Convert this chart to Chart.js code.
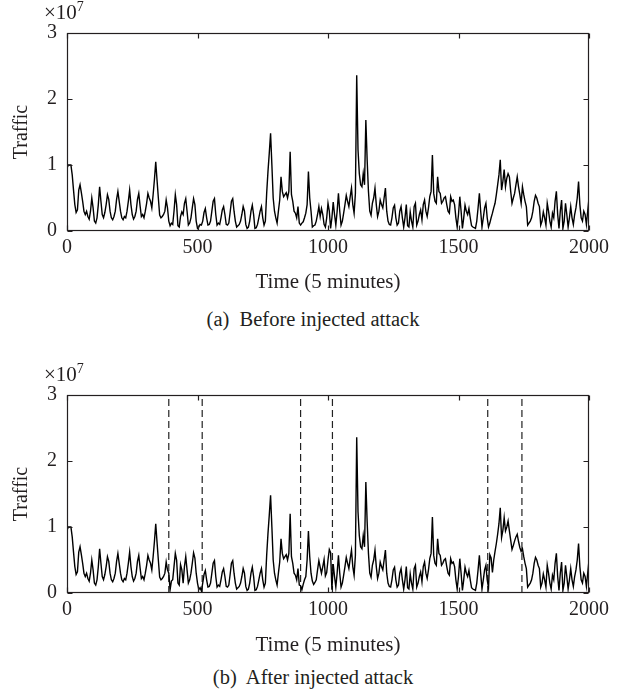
<!DOCTYPE html>
<html><head><meta charset="utf-8">
<script src="https://cdn.jsdelivr.net/npm/chart.js@4.4.1/dist/chart.umd.min.js"></script>
<style>
body{margin:0;background:#fff;width:626px;height:694px;position:relative;overflow:hidden;font-family:"Liberation Serif",serif;color:#231f20}
.cv{position:absolute;left:0;width:626px;height:300px}
#wa{top:0}
#wb{top:360px}
.exp{position:absolute;left:44px;font-size:21px;line-height:22px;white-space:nowrap}
.exp sup{font-size:14px;vertical-align:0;position:relative;top:-8px}
.cap{position:absolute;left:0;width:626px;text-align:center;font-size:20.5px;line-height:24px;white-space:pre}
</style></head><body>
<div class="cv" id="wa"><canvas id="ca" width="626" height="300"></canvas></div>
<div class="cv" id="wb"><canvas id="cb" width="626" height="300"></canvas></div>
<div class="exp" style="top:1px">×10<sup>7</sup></div>
<div class="exp" style="top:363px">×10<sup>7</sup></div>
<div class="cap" style="top:307px">(a)  Before injected attack</div>
<div class="cap" style="top:665px">(b)  After injected attack</div>
<script>
// Traffic (×10^7), sampled every 5 time units (5-minute intervals), t = 0..2000
const SAMPLE_STEP = 5;
const trafficBefore = [
 0.95,1.0,1.0,1.0,0.85,0.62,0.4,0.28,0.32,0.62,0.7,0.58,0.45,0.3,0.25,0.3,0.22,0.18,0.3,0.5,
 0.35,0.15,0.12,0.2,0.4,0.67,0.45,0.25,0.2,0.28,0.4,0.55,0.48,0.3,0.2,0.17,0.22,0.3,0.48,0.6,
 0.45,0.3,0.2,0.17,0.22,0.2,0.3,0.45,0.62,0.4,0.25,0.18,0.22,0.3,0.48,0.57,0.38,0.22,0.25,0.2,
 0.3,0.42,0.57,0.5,0.45,0.35,0.55,0.78,1.05,0.77,0.5,0.24,0.2,0.22,0.25,0.3,0.47,0.35,0.15,0.08,
 0.12,0.1,0.3,0.55,0.4,0.08,0.06,0.22,0.29,0.25,0.42,0.49,0.3,0.09,0.12,0.2,0.35,0.49,0.4,0.15,
 0.04,0.06,0.1,0.09,0.15,0.28,0.34,0.2,0.09,0.1,0.15,0.3,0.45,0.49,0.25,0.09,0.12,0.1,0.2,0.32,
 0.37,0.25,0.1,0.09,0.12,0.28,0.45,0.49,0.3,0.15,0.06,0.08,0.1,0.15,0.25,0.37,0.3,0.1,0.04,0.06,
 0.15,0.3,0.39,0.25,0.04,0.05,0.1,0.2,0.3,0.37,0.2,0.09,0.15,0.57,0.9,1.18,1.48,1.0,0.5,0.3,
 0.2,0.12,0.3,0.47,0.82,0.6,0.52,0.55,0.58,0.5,0.6,1.2,0.55,0.45,0.3,0.27,0.2,0.37,0.12,0.09,
 0.12,0.14,0.2,0.27,0.4,0.9,0.5,0.3,0.06,0.08,0.09,0.15,0.25,0.37,0.22,0.34,0.25,0.1,0.06,0.2,
 0.42,0.3,0.04,0.2,0.44,0.25,0.09,0.3,0.57,0.3,0.09,0.15,0.27,0.4,0.54,0.45,0.37,0.52,0.65,0.4,
 0.27,0.57,2.36,1.23,0.87,0.7,0.67,0.87,0.7,1.68,1.08,0.6,0.3,0.24,0.42,0.5,0.65,0.4,0.22,0.3,
 0.47,0.4,0.35,0.5,0.65,0.3,0.15,0.1,0.09,0.2,0.35,0.39,0.2,0.09,0.12,0.3,0.37,0.2,0.06,0.2,
 0.4,0.08,0.06,0.29,0.15,0.06,0.37,0.42,0.09,0.15,0.25,0.32,0.17,0.4,0.47,0.3,0.22,0.35,0.52,0.6,
 1.15,0.57,0.45,0.42,0.82,0.6,0.57,0.42,0.45,0.5,0.52,0.4,0.3,0.27,0.52,0.45,0.47,0.4,0.2,0.06,
 0.25,0.52,0.3,0.04,0.2,0.39,0.3,0.25,0.34,0.2,0.08,0.06,0.05,0.04,0.15,0.35,0.57,0.3,0.06,0.2,
 0.35,0.42,0.2,0.06,0.12,0.2,0.27,0.35,0.42,0.55,0.7,0.85,1.08,0.62,0.75,0.93,0.67,0.8,0.87,0.82,
 0.6,0.42,0.5,0.57,0.7,0.82,0.67,0.55,0.42,0.67,0.55,0.45,0.37,0.09,0.12,0.15,0.2,0.3,0.45,0.54,
 0.5,0.42,0.37,0.09,0.15,0.29,0.2,0.09,0.42,0.3,0.15,0.06,0.27,0.2,0.45,0.6,0.25,0.04,0.3,0.47,
 0.04,0.15,0.42,0.25,0.06,0.2,0.37,0.2,0.1,0.25,0.35,0.5,0.75,0.4,0.2,0.15,0.3,0.25,0.1,0.3,
 0.5
];
// Traffic inside the three injected-attack windows (panel b)
const attack1Start = 390;
const attack1Values = [0.3,0.05,0.18,0.2,0.4,0.6,0.5,0.15,0.12,0.43,0.35,0.15,0.4,0.55,0.35,0.15,0.2,0.3,0.45,0.61,0.53,0.3,0.15,0.05,0.08,0.03];
const attack2Start = 895;
const attack2Values = [0.11,0.05,0.13,0.2,0.25,0.5,0.94,0.55,0.3,0.18,0.13,0.16,0.2,0.35,0.49,0.39,0.3,0.4,0.51,0.26,0.31,0.5,0.66,0.61,0.05];
const attack3Start = 1610;
const attack3Values = [0.2,0.08,0.58,0.53,0.31,0.5,0.63,0.75,0.89,1.05,1.29,0.84,0.95,1.14,0.94,1.0,1.09,0.94,0.8,0.66,0.72,0.79,0.85,0.89,0.78,0.69,0.63];
// Dashed boundaries of the attack windows (time)
const attackBounds = [390, 518, 895, 1017, 1612, 1743];
const xTicks = [0, 500, 1000, 1500, 2000];
const yTicks = [0, 1, 2, 3];

function withWindows(base, wins) {
  const out = base.slice();
  wins.forEach(w => w.values.forEach((v, k) => { out[w.start / SAMPLE_STEP + k] = v; }));
  return out;
}
const trafficAfter = withWindows(trafficBefore, [
  {start: attack1Start, values: attack1Values},
  {start: attack2Start, values: attack2Values},
  {start: attack3Start, values: attack3Values}
]);
const toPoints = arr => arr.map((v, i) => ({x: i * SAMPLE_STEP, y: v}));

const INK = '#231f20';
const FONT = '"Liberation Serif", serif';

const framePlugin = {
  id: 'frame',
  afterDatasetsDraw(chart) {
    const {ctx, chartArea: a, scales: {x, y}} = chart;
    ctx.save();
    ctx.strokeStyle = INK; ctx.lineWidth = 1.2;
    const L = Math.round(a.left) + 0.5, R = Math.round(a.right) - 0.5;
    const T = Math.round(a.top) + 0.5, B = Math.round(a.bottom) - 0.5;
    ctx.strokeRect(L, T, R - L, B - T);
    ctx.beginPath();
    const tl = 5;
    xTicks.forEach(v => {
      const px = Math.round(x.getPixelForValue(v)) + 0.5;
      ctx.moveTo(px, B); ctx.lineTo(px, B - tl);
      ctx.moveTo(px, T); ctx.lineTo(px, T + tl);
    });
    yTicks.forEach(v => {
      const py = Math.round(y.getPixelForValue(v)) + 0.5;
      ctx.moveTo(L, py); ctx.lineTo(L + tl, py);
      ctx.moveTo(R, py); ctx.lineTo(R - tl, py);
    });
    ctx.stroke();
    ctx.restore();
  }
};

function makeChart(id, series, bounds, topPad, xAxisH, titlePadBottom) {
  const datasets = [{
    data: toPoints(series), borderColor: '#000', borderWidth: 1.4,
    pointRadius: 0, tension: 0, fill: false, borderJoinStyle: 'miter'
  }];
  bounds.forEach(b => datasets.push({
    data: [{x: b, y: 0}, {x: b, y: 3}], borderColor: '#222', borderWidth: 1.2,
    borderDash: [7, 4], pointRadius: 0, fill: false
  }));
  return new Chart(document.getElementById(id), {
    type: 'line',
    data: {datasets},
    plugins: [framePlugin],
    options: {
      responsive: false, animation: false, devicePixelRatio: 1,
      layout: {padding: {left: 0, right: 37, top: topPad, bottom: 0}},
      plugins: {legend: {display: false}, tooltip: {enabled: false}},
      scales: {
        x: {
          type: 'linear', min: 0, max: 2000,
          grid: {display: false, drawTicks: false}, border: {display: false},
          afterBuildTicks: s => { s.ticks = xTicks.map(v => ({value: v})); },
          afterFit: s => { s.height = xAxisH; },
          ticks: {padding: 5, color: INK, font: {family: FONT, size: 20}, maxRotation: 0,
                  callback: v => String(v)},
          title: {display: true, text: 'Time (5 minutes)', color: INK,
                  font: {family: FONT, size: 21}, padding: {top: 0, bottom: titlePadBottom}}
        },
        y: {
          type: 'linear', min: 0, max: 3,
          grid: {display: false, drawTicks: false}, border: {display: false},
          afterBuildTicks: s => { s.ticks = yTicks.map(v => ({value: v})); },
          afterFit: s => { s.width = 67; },
          ticks: {padding: 10, color: INK, font: {family: FONT, size: 20}, callback: v => String(v)},
          title: {display: true, text: 'Traffic', color: INK,
                  font: {family: FONT, size: 20}, padding: {top: 10, bottom: 0}}
        }
      }
    }
  });
}
makeChart('ca', trafficBefore, [], 33, 69, 5);
makeChart('cb', trafficAfter, attackBounds, 35, 67, 2);
</script>
</body></html>
